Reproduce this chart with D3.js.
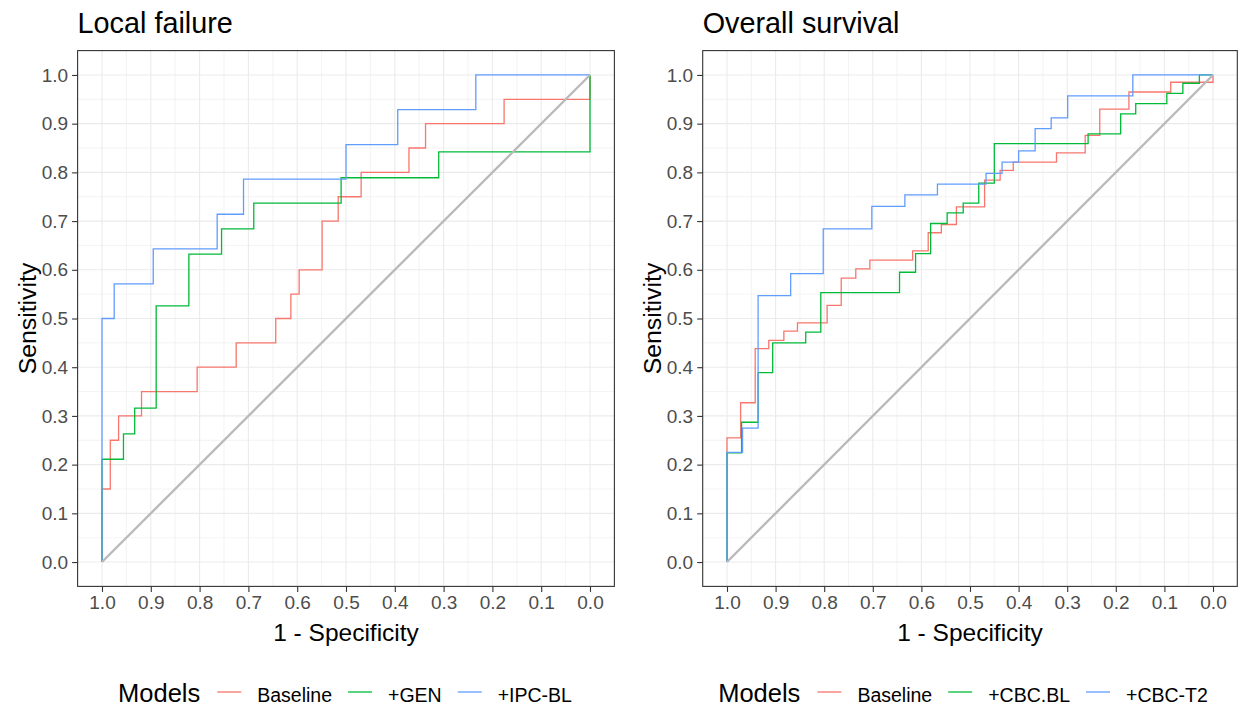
<!DOCTYPE html>
<html>
<head>
<meta charset="utf-8">
<script src="https://cdn.jsdelivr.net/npm/d3@7"></script>
<style>
  body { margin: 0; background: #fff; }
  svg { font-family: "Liberation Sans", Arial, sans-serif; }
</style>
</head>
<body>
<script>
// ROC steps: each point is [specificity, sensitivity]; the curve rises to the
// new sensitivity at the previous specificity, then runs to the new specificity.
let lfBaseline = [[1,0],[0.983,0.15],[0.966,0.25],[0.919,0.30],[0.805,0.35],[0.725,0.40],
  [0.644,0.45],[0.613,0.50],[0.596,0.55],[0.549,0.60],[0.516,0.70],[0.469,0.75],
  [0.371,0.80],[0.337,0.85],[0.176,0.90],[0,0.95],[0,1]];
let lfGen = [[1,0],[0.956,0.211],[0.933,0.263],[0.889,0.316],[0.822,0.526],[0.755,0.632],
  [0.689,0.684],[0.51,0.737],[0.31,0.789],[0,0.842],[0,1]];
let lfIpc = [[1,0],[0.975,0.5],[0.895,0.571],[0.764,0.643],[0.71,0.714],[0.5,0.786],
  [0.394,0.857],[0.234,0.929],[0,1]];

let osBaseline = [[1,0],[0.972,0.255],[0.942,0.327],[0.914,0.438],[0.883,0.455],[0.855,0.474],
  [0.794,0.491],[0.765,0.527],[0.735,0.583],[0.706,0.602],[0.618,0.620],[0.586,0.639],
  [0.559,0.676],[0.528,0.693],[0.47,0.729],[0.438,0.784],[0.411,0.804],[0.322,0.821],
  [0.263,0.840],[0.233,0.876],[0.173,0.930],[0.087,0.965],[0,0.985],[0,1]];
let osCbcBl = [[1,0],[0.970,0.224],[0.936,0.287],[0.906,0.389],[0.838,0.450],[0.807,0.472],
  [0.645,0.553],[0.612,0.595],[0.581,0.633],[0.547,0.695],[0.514,0.717],[0.482,0.737],
  [0.45,0.778],[0.257,0.859],[0.19,0.879],[0.159,0.920],[0.095,0.941],[0.062,0.962],
  [0.028,0.983],[0,1]];
let osCbcT2 = [[1,0],[0.968,0.225],[0.936,0.275],[0.869,0.547],[0.802,0.592],[0.702,0.684],
  [0.634,0.730],[0.567,0.754],[0.467,0.776],[0.434,0.798],[0.4,0.821],[0.366,0.844],
  [0.333,0.890],[0.299,0.912],[0.165,0.957],[0,1]];

let titles = ['Local failure', 'Overall survival'];
let modelNames = [['Baseline', '+GEN', '+IPC-BL'], ['Baseline', '+CBC.BL', '+CBC-T2']];
let panelSeries = [[lfBaseline, lfGen, lfIpc], [osBaseline, osCbcBl, osCbcT2]];
let colors = ['#F8766D', '#00BA38', '#619CFF'];
let ticks = [0, 0.1, 0.2, 0.3, 0.4, 0.5, 0.6, 0.7, 0.8, 0.9, 1.0];
let minorTicks = [0.05, 0.15, 0.25, 0.35, 0.45, 0.55, 0.65, 0.75, 0.85, 0.95];

let svg = d3.select('body').append('svg')
  .attr('width', 1238)
  .attr('height', 707);

// panel boxes (left, right) and shared vertical extent
let panels = [
  { left: 77.6, right: 614.4, legendCenter: 345 },
  { left: 702.7, right: 1237.3, legendCenter: 963 }
];
let panelTop = 50.6, panelBottom = 586.4;

function drawPanel(p, i) {
  let x = d3.scaleLinear().domain([1.05, -0.05]).range([p.left, p.right]);
  let y = d3.scaleLinear().domain([-0.05, 1.05]).range([panelBottom, panelTop]);
  let g = svg.append('g');

  // grid
  g.selectAll('line.minx').data(minorTicks).enter().append('line')
    .attr('x1', d => x(d)).attr('x2', d => x(d)).attr('y1', panelTop).attr('y2', panelBottom)
    .attr('stroke', '#f0f0f0').attr('stroke-width', 0.8);
  g.selectAll('line.miny').data(minorTicks).enter().append('line')
    .attr('y1', d => y(d)).attr('y2', d => y(d)).attr('x1', p.left).attr('x2', p.right)
    .attr('stroke', '#f0f0f0').attr('stroke-width', 0.8);
  g.selectAll('line.majx').data(ticks).enter().append('line')
    .attr('x1', d => x(d)).attr('x2', d => x(d)).attr('y1', panelTop).attr('y2', panelBottom)
    .attr('stroke', '#ebebeb').attr('stroke-width', 1.1);
  g.selectAll('line.majy').data(ticks).enter().append('line')
    .attr('y1', d => y(d)).attr('y2', d => y(d)).attr('x1', p.left).attr('x2', p.right)
    .attr('stroke', '#ebebeb').attr('stroke-width', 1.1);

  // curves
  let line = d3.line()
    .x(d => x(d[0]))
    .y(d => y(d[1]))
    .curve(d3.curveStepBefore);

  panelSeries[i].forEach(function (s, k) {
    g.append('path')
      .attr('d', line(s))
      .attr('fill', 'none')
      .attr('stroke', colors[k])
      .attr('stroke-width', 1.3);
  });

  // chance diagonal
  g.append('line')
    .attr('x1', x(1)).attr('y1', y(0))
    .attr('x2', x(0)).attr('y2', y(1))
    .attr('stroke', '#b9b9b9')
    .attr('stroke-width', 2.3);

  // border
  g.append('rect')
    .attr('x', p.left).attr('y', panelTop)
    .attr('width', p.right - p.left).attr('height', panelBottom - panelTop)
    .attr('fill', 'none')
    .attr('stroke', '#333')
    .attr('stroke-width', 1.1);

  // axes
  let xAxis = d3.axisBottom(x).tickValues(ticks).tickFormat(d3.format('.1f'))
    .tickSize(5.5).tickPadding(4);
  let yAxis = d3.axisLeft(y).tickValues(ticks).tickFormat(d3.format('.1f'))
    .tickSize(5.5).tickPadding(4);

  let gx = g.append('g').attr('transform', 'translate(0,' + panelBottom + ')').call(xAxis);
  let gy = g.append('g').attr('transform', 'translate(' + p.left + ',0)').call(yAxis);
  [gx, gy].forEach(function (a) {
    a.select('.domain').remove();
    a.selectAll('.tick line').attr('stroke', '#333').attr('stroke-width', 1.1);
    a.selectAll('.tick text')
      .attr('fill', '#4d4d4d')
      .style('font-size', '19px')
      .style('font-family', '"Liberation Sans", Arial, sans-serif');
  });
  gx.selectAll('.tick text').attr('dy', '0.71em');

  // titles
  g.append('text')
    .attr('x', p.left)
    .attr('y', 33)
    .style('font-size', '28.8px')
    .attr('fill', '#000')
    .text(titles[i]);

  g.append('text')
    .attr('x', (p.left + p.right) / 2)
    .attr('y', 641)
    .attr('text-anchor', 'middle')
    .style('font-size', '24.5px')
    .text('1 - Specificity');

  g.append('text')
    .attr('transform', 'translate(' + (p.left - 42) + ',' + ((panelTop + panelBottom) / 2) + ') rotate(-90)')
    .attr('text-anchor', 'middle')
    .style('font-size', '24.8px')
    .text('Sensitivity');

  // legend
  let lg = g.append('g');
  let cursor = 0;
  let ly = 701.5;
  let title = lg.append('text')
    .attr('x', cursor).attr('y', ly)
    .style('font-size', '25.5px')
    .text('Models');
  cursor += title.node().getComputedTextLength() + 17;
  modelNames[i].forEach(function (name, k) {
    lg.append('line')
      .attr('x1', cursor).attr('x2', cursor + 24)
      .attr('y1', ly - 9.5).attr('y2', ly - 9.5)
      .attr('stroke', colors[k]).attr('stroke-width', 1.3);
    cursor += 24 + 16;
    let t = lg.append('text')
      .attr('x', cursor).attr('y', ly)
      .style('font-size', '19.5px')
      .text(name);
    cursor += t.node().getComputedTextLength();
    if (k < modelNames[i].length - 1) cursor += 16;
  });
  lg.attr('transform', 'translate(' + (p.legendCenter - cursor / 2) + ',0)');
}

panels.forEach(drawPanel);
</script>
</body>
</html>
